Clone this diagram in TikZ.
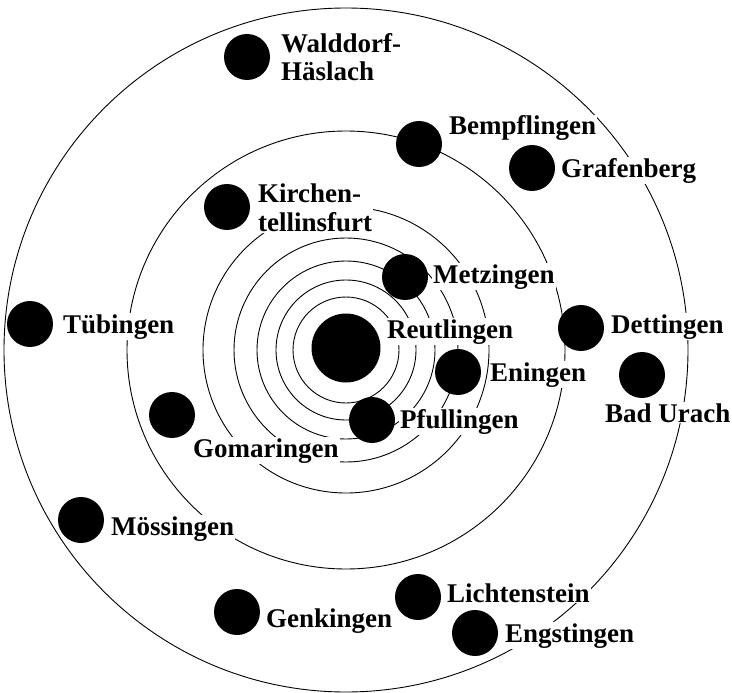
\documentclass[tikz,border=0pt]{standalone}
\usepackage{fontspec}
\setmainfont{Liberation Serif}

\begin{document}
\begin{tikzpicture}[
			x=1pt, y=-1pt,
			ring/.style={line width=0.9pt},
			punkt/.style={circle, fill=black, inner sep=0pt, minimum size=46pt},
			zentrum/.style={circle, fill=black, inner sep=0pt, minimum size=69pt},
			ort/.style={anchor=base west, fill=white, inner sep=1pt, font=\bfseries\fontsize{27}{28.5}\selectfont},
			ortzwei/.style={ort, anchor=north west, align=left}
		]
		\useasboundingbox (0,0) rectangle (732,693);

		% Ringe um Reutlingen
		\coordinate (mitte) at (346,350);
		\foreach \r in {53,70,89,112,143,219,342}
			\draw[ring] (mitte) circle[radius=\r pt];

		% Beschriftungen (weiss hinterlegt)
		\node[ortzwei] (walddorf-txt) at (280,32) {Walddorf-\\H\"aslach};
		\node[ort] (bempflingen-txt) at (448,135) {Bempflingen};
		\node[ort] (grafenberg-txt) at (560,177) {Grafenberg};
		\node[ortzwei] (kirchen-txt) at (257,183) {Kirchen-\\tellinsfurt};
		\node[ort] (metzingen-txt) at (432,283) {Metzingen};
		\node[ort] (tuebingen-txt) at (62,333) {T\"ubingen};
		\node[ort] (reutlingen-txt) at (386,338) {Reutlingen};
		\node[ort] (dettingen-txt) at (610,333) {Dettingen};
		\node[ort] (eningen-txt) at (489,381) {Eningen};
		\node[ort] (urach-txt) at (604,422) {Bad Urach};
		\node[ort] (pfullingen-txt) at (399,428) {Pfullingen};
		\node[ort] (gomaringen-txt) at (192,457) {Gomaringen};
		\node[ort] (moessingen-txt) at (110,535) {M\"ossingen};
		\node[ort] (lichtenstein-txt) at (446,602) {Lichtenstein};
		\node[ort] (genkingen-txt) at (265,627) {Genkingen};
		\node[ort] (engstingen-txt) at (504,642) {Engstingen};

		% Orte
		\node[zentrum] (reutlingen) at (346,348) {};
		\node[punkt] (walddorf) at (247,57) {};
		\node[punkt] (bempflingen) at (419,144) {};
		\node[punkt] (grafenberg) at (532,168) {};
		\node[punkt] (kirchen) at (227,207) {};
		\node[punkt] (metzingen) at (405,277) {};
		\node[punkt] (tuebingen) at (30,324) {};
		\node[punkt] (dettingen) at (581,328) {};
		\node[punkt] (eningen) at (458,372) {};
		\node[punkt] (urach) at (642,375) {};
		\node[punkt] (pfullingen) at (372,420) {};
		\node[punkt] (gomaringen) at (172,415) {};
		\node[punkt] (moessingen) at (81,520) {};
		\node[punkt] (genkingen) at (237,612) {};
		\node[punkt] (lichtenstein) at (418,597) {};
		\node[punkt] (engstingen) at (475,633) {};
	\end{tikzpicture}
\end{document}
